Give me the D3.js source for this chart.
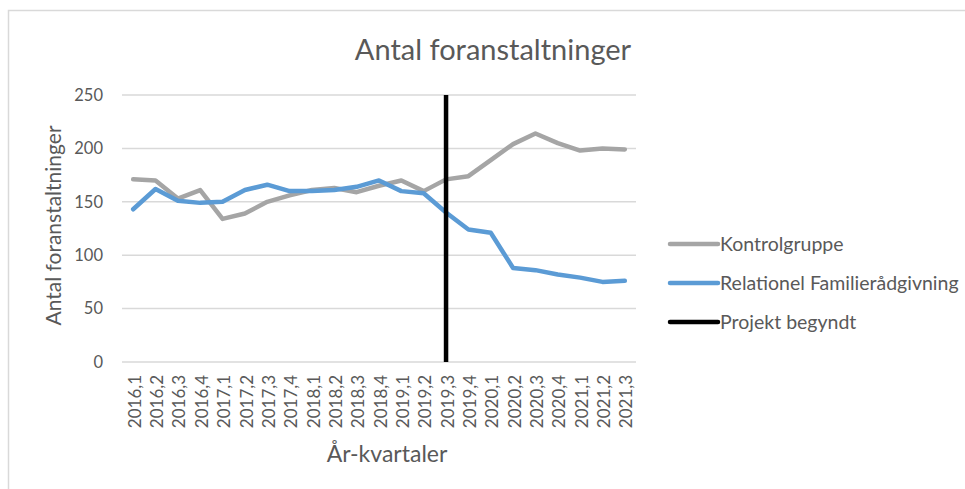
<!DOCTYPE html>
<html>
<head>
<meta charset="utf-8">
<script src="https://cdn.jsdelivr.net/npm/d3@7"></script>
<style>
  body { margin: 0; background: #fff; }
  svg { display: block; font-family: Lato, "Open Sans", sans-serif; }
</style>
</head>
<body>
<div id="chart"></div>
<script>
//************ data ************//
var categories = ["2016,1","2016,2","2016,3","2016,4","2017,1","2017,2","2017,3","2017,4",
                  "2018,1","2018,2","2018,3","2018,4","2019,1","2019,2","2019,3","2019,4",
                  "2020,1","2020,2","2020,3","2020,4","2021,1","2021,2","2021,3"];
var kontrolgruppe = [171,170,153,161,134,139,150,156,161,163,159,165,170,160,171,174,189,204,214,205,198,200,199];
var relationel    = [143,162,151,149,150,161,166,160,160,161,164,170,160,158,140,124,121,88,86,82,79,75,76];
var projektStart = "2019,3";
var projektRange = [0, 250];
var yTicks = [0, 50, 100, 150, 200, 250];
var legendNames = ["Kontrolgruppe", "Relationel Familierådgivning", "Projekt begyndt"];
var colors = ["#a5a5a5", "#5b9bd5", "#000000"];

//************ setup ************//
var width = 965, height = 489;
var plot = {left: 122, right: 636, top: 95, bottom: 362};
var textColor = "#595959";

var svg = d3.select("#chart").append("svg")
    .attr("width", width)
    .attr("height", height);

// chart frame
svg.append("rect")
    .attr("x", 8.5).attr("y", 10.5)
    .attr("width", width + 10).attr("height", height + 10)
    .attr("fill", "none")
    .attr("stroke", "#d9d9d9")
    .attr("stroke-width", 1.5);

var x = d3.scalePoint().domain(categories).range([plot.left, plot.right]).padding(0.5);
var y = d3.scaleLinear().domain([0, 250]).range([plot.bottom, plot.top]);

// gridlines
svg.append("g").selectAll("line").data(yTicks).enter().append("line")
    .attr("x1", plot.left).attr("x2", plot.right)
    .attr("y1", function(d) { return y(d); })
    .attr("y2", function(d) { return y(d); })
    .attr("stroke", "#d9d9d9")
    .attr("stroke-width", 1.5);

// y axis labels
var yAxis = d3.axisLeft(y).tickValues(yTicks).tickSize(0).tickPadding(19);
svg.append("g")
    .attr("transform", "translate(" + plot.left + ",0)")
    .call(yAxis)
    .call(function(g) {
      g.select(".domain").remove();
      g.selectAll("text").attr("fill", textColor).style("font-size", "16.5px").style("font-family", "Lato");
    });

// x axis labels (rotated)
var xAxis = d3.axisBottom(x).tickSize(0).tickPadding(0);
svg.append("g")
    .attr("transform", "translate(0," + plot.bottom + ")")
    .call(xAxis)
    .call(function(g) {
      g.select(".domain").remove();
      g.selectAll("text")
        .attr("fill", textColor)
        .style("font-size", "17px")
        .style("font-family", "Lato")
        .attr("text-anchor", "end")
        .attr("transform", "rotate(-90)")
        .attr("x", -13)
        .attr("y", 1)
        .attr("dy", "0.36em");
    });

// series lines
var line = d3.line()
    .x(function(d, i) { return x(categories[i]); })
    .y(function(d) { return y(d); });

[kontrolgruppe, relationel].forEach(function(series, i) {
  svg.append("path")
      .datum(series)
      .attr("d", line)
      .attr("fill", "none")
      .attr("stroke", colors[i])
      .attr("stroke-width", 4.5)
      .attr("stroke-linejoin", "round")
      .attr("stroke-linecap", "round");
});

// project start line
svg.append("line")
    .attr("x1", x(projektStart)).attr("x2", x(projektStart))
    .attr("y1", y(projektRange[0])).attr("y2", y(projektRange[1]))
    .attr("stroke", colors[2])
    .attr("stroke-width", 4.5);

// title
svg.append("text")
    .attr("x", 493).attr("y", 60)
    .attr("text-anchor", "middle")
    .attr("fill", textColor)
    .style("font-size", "29px")
    .text("Antal foranstaltninger");

// axis titles
svg.append("text")
    .attr("transform", "translate(61," + ((plot.top + plot.bottom) / 2 - 3) + ") rotate(-90)")
    .attr("text-anchor", "middle")
    .attr("fill", textColor)
    .style("font-size", "21px")
    .text("Antal foranstaltninger");

svg.append("text")
    .attr("x", 387).attr("y", 462)
    .attr("text-anchor", "middle")
    .attr("fill", textColor)
    .style("font-size", "23px")
    .text("År-kvartaler");

// legend
var legend = svg.append("g").selectAll("g").data(legendNames).enter().append("g")
    .attr("transform", function(d, i) { return "translate(670," + (244 + i * 39) + ")"; });

legend.append("line")
    .attr("x1", 0).attr("x2", 48)
    .attr("stroke", function(d, i) { return colors[i]; })
    .attr("stroke-width", 4.5)
    .attr("stroke-linecap", "round");

legend.append("text")
    .attr("x", 50).attr("dy", "0.35em")
    .attr("fill", textColor)
    .style("font-size", "19.5px")
    .text(function(d) { return d; });
</script>
</body>
</html>
